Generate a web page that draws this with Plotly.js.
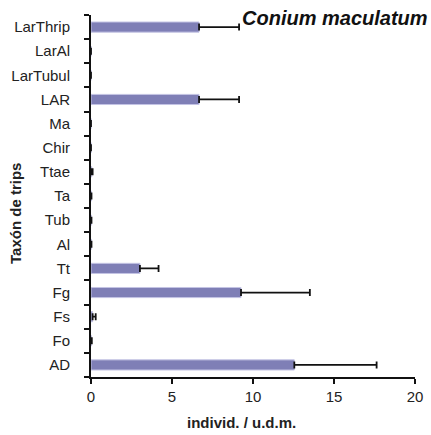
<!DOCTYPE html>
<html><head><meta charset="utf-8">
<script src="https://cdn.plot.ly/plotly-3.0.1.min.js"></script>
<style>html,body{margin:0;padding:0;background:#fff}#chart{width:431px;height:435px}</style>
</head><body><div id="chart"></div>
<script>
const categories = ["AD","Fo","Fs","Fg","Tt","Al","Tub","Ta","Ttae","Chir","Ma","LAR","LarTubul","LarAl","LarThrip"];
const means = [12.55, 0.03, 0.1, 9.26, 3.02, 0.02, 0.02, 0.02, 0.05, 0, 0, 6.67, 0, 0, 6.67];
const errors = [5.08, 0.02, 0.19, 4.25, 1.15, 0.01, 0.01, 0.01, 0.05, 0, 0, 2.47, 0, 0, 2.47];
const xTicks = [0, 5, 10, 15, 20];

const trace = {
  type: "bar", orientation: "h",
  y: categories, x: means,
  width: 0.42,
  marker: {color: "#7f7fb6", line: {color: "#c4c4e4", width: 1}},
  error_x: {type: "data", symmetric: false, array: errors, arrayminus: errors.map(() => 0),
            visible: true, color: "#111", thickness: 1.8, width: 3.5}
};
const layout = {
  width: 431, height: 435,
  margin: {l: 91, r: 16, t: 15, b: 58},
  paper_bgcolor: "#fff", plot_bgcolor: "#fff",
  showlegend: false,
  font: {family: "Liberation Sans, Arial, sans-serif", size: 15, color: "#222"},
  xaxis: {
    range: [0, 20], tickvals: xTicks, ticktext: xTicks.map(String),
    showgrid: false, zeroline: false,
    showline: true, linecolor: "#111", linewidth: 2,
    ticks: "outside", ticklen: 5, tickwidth: 2, tickcolor: "#111"
  },
  yaxis: {
    type: "category", categoryorder: "array", categoryarray: categories,
    range: [-0.5, 14.5],
    showgrid: false, zeroline: false,
    showline: true, linecolor: "#111", linewidth: 2,
    ticks: "outside", ticklen: 5, tickwidth: 2, tickcolor: "#111",
    tickson: "boundaries", ticklabelstandoff: 16
  },
  annotations: [{
    text: "<b><i>Conium maculatum</i></b>", xref: "paper", yref: "paper",
    x: 1, y: 1.0, xanchor: "right", yanchor: "middle", xshift: 15, yshift: -3, showarrow: false,
    font: {size: 20, color: "#111"}
  }, {
    text: "<b>individ. / u.d.m.</b>", xref: "paper", yref: "paper",
    x: 0.466, y: -0.127, xanchor: "center", yanchor: "middle", showarrow: false,
    font: {size: 15, color: "#222"}
  }, {
    text: "<b>Taxón de trips</b>", xref: "paper", yref: "paper", textangle: -90,
    x: -0.2346, y: 0.453, xanchor: "center", yanchor: "middle", showarrow: false,
    font: {size: 15, color: "#222"}
  }]
};
Plotly.newPlot("chart", [trace], layout, {displayModeBar: false, staticPlot: true});
</script></body></html>
